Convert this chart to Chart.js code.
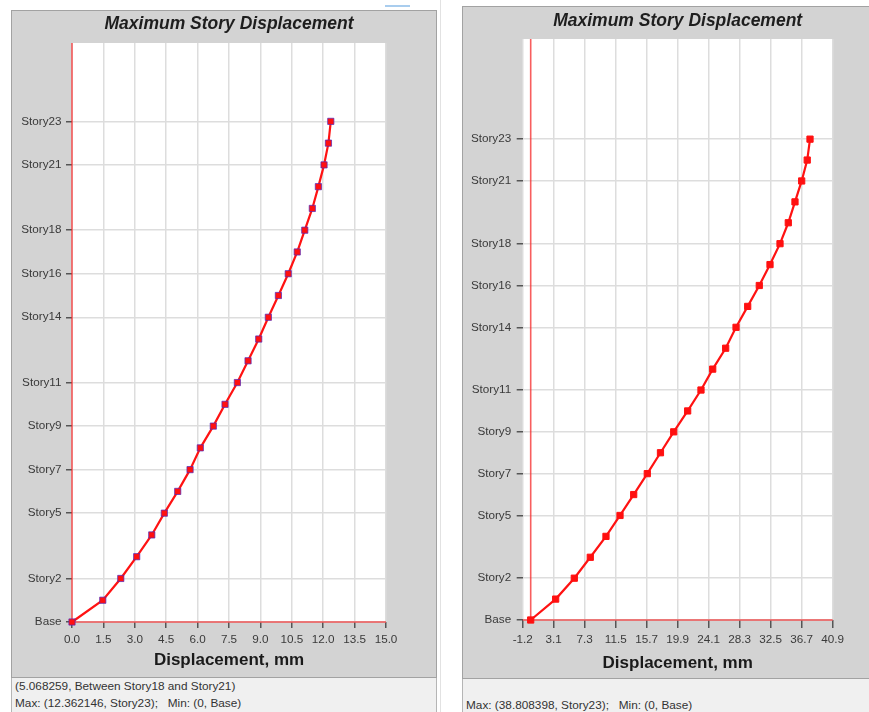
<!DOCTYPE html>
<html>
<head>
<meta charset="utf-8">
<script src="https://cdn.jsdelivr.net/npm/chart.js@4.4.1/dist/chart.umd.min.js"></script>
<style>
  html, body { margin: 0; padding: 0; background: #ffffff; width: 869px; height: 712px; overflow: hidden;
               font-family: "Liberation Sans", Arial, sans-serif; }
  .frame { position: absolute; background: #ffffff; }
  .panel { position: absolute; background: #d3d3d3; border: 1px solid #a2a2a2; box-sizing: border-box; }
  .panel canvas { position: absolute; left: 0; top: 0; }
  .footer { position: absolute; background: #f0f0f0; border-left: 1px solid #b5b5b5; border-right: 1px solid #b5b5b5; box-sizing: border-box; }
  .status { position: absolute; font-size: 11.8px; color: #333333; white-space: nowrap; line-height: 14px; }
  #p1 { left: 11px; top: 10px; width: 426px; height: 668px; }
  #f1 { left: 11px; top: 678px; width: 426px; height: 34px; }
  #p2 { left: 462px; top: 6px; width: 420px; height: 673px; }
  #f2 { left: 462px; top: 679px; width: 420px; height: 33px; }
  #sep { left: 440px; top: 0; width: 1px; height: 712px; background: #e2e2e2; }
  #tab { left: 385px; top: 5px; width: 25px; height: 2px; background: #a9cdee; }
</style>
</head>
<body>
<div class="frame" id="sep"></div>
<div class="frame" id="tab"></div>

<div class="panel" id="p1"><canvas id="c1" width="424" height="666"></canvas></div>
<div class="footer" id="f1">
  <div class="status" style="left:3px; top:1px;">(5.068259, Between Story18 and Story21)</div>
  <div class="status" style="left:3px; top:18px;">Max: (12.362146, Story23);&nbsp;&nbsp; Min: (0, Base)</div>
</div>

<div class="panel" id="p2"><canvas id="c2" width="406" height="671"></canvas></div>
<div class="footer" id="f2">
  <div class="status" style="left:3px; top:19px;">Max: (38.808398, Story23);&nbsp;&nbsp; Min: (0, Base)</div>
</div>

<script>
// Story levels, bottom to top
const storyNames = ['Base', 'Story1', 'Story2', 'Story3', 'Story4', 'Story5', 'Story6', 'Story7',
  'Story8', 'Story9', 'Story10', 'Story11', 'Story12', 'Story13', 'Story14', 'Story15', 'Story16',
  'Story17', 'Story18', 'Story19', 'Story20', 'Story21', 'Story22', 'Story23'];
// Levels that carry a label and a grid line
const storyTicks = [0, 2, 5, 7, 9, 11, 14, 16, 18, 21, 23];

// Maximum displacement per level (mm)
const dispLeft = [0, 1.47, 2.33, 3.09, 3.81, 4.41, 5.05, 5.64, 6.13, 6.75, 7.31, 7.90, 8.41,
  8.92, 9.38, 9.86, 10.33, 10.76, 11.12, 11.48, 11.77, 12.04, 12.25, 12.362146];
const dispRight = [0, 3.47, 6.06, 8.28, 10.46, 12.41, 14.31, 16.20, 18.03, 19.87, 21.81, 23.66,
  25.29, 27.09, 28.53, 30.15, 31.76, 33.25, 34.64, 35.79, 36.72, 37.65, 38.42, 38.808398];

// Displacement axis labels
const xLabelsLeft = ['0.0', '1.5', '3.0', '4.5', '6.0', '7.5', '9.0', '10.5', '12.0', '13.5', '15.0'];
const xLabelsRight = ['-1.2', '3.1', '7.3', '11.5', '15.7', '19.9', '24.1', '28.3', '32.5', '36.7', '40.9'];

const titleText = 'Maximum Story Displacement';
const xTitleText = 'Displacement, mm';

Chart.defaults.font.family = '"Liberation Sans", Arial, sans-serif';

// White plotting field on the grey panel
const plotBg = {
  id: 'plotBg',
  beforeDraw(chart) {
    const { ctx, chartArea: a } = chart;
    ctx.save();
    ctx.fillStyle = '#ffffff';
    ctx.fillRect(a.left, a.top, a.right - a.left, a.bottom - a.top);
    ctx.restore();
  }
};

// Red reference lines at zero displacement and at the base level
const zeroLines = {
  id: 'zeroLines',
  beforeDatasetsDraw(chart) {
    const { ctx, chartArea: a, scales: { x, y } } = chart;
    const px = x.getPixelForValue(0);
    const py = y.getPixelForValue(0);
    ctx.save();
    ctx.strokeStyle = 'rgba(245, 40, 40, 0.75)';
    ctx.lineWidth = 1.6;
    ctx.beginPath();
    ctx.moveTo(px, a.top);
    ctx.lineTo(px, a.bottom);
    ctx.moveTo(a.left, py);
    ctx.lineTo(a.right, py);
    ctx.stroke();
    ctx.restore();
  }
};

function makeChart(id, values, o) {
  return new Chart(document.getElementById(id), {
    type: 'scatter',
    data: {
      datasets: [{
        data: values.map((d, i) => ({ x: d, y: i })),
        showLine: true,
        borderColor: '#ff1212',
        borderWidth: 2.2,
        pointStyle: 'rect',
        pointRadius: 4.4,
        pointBackgroundColor: '#ff1010',
        pointBorderColor: o.pointEdge,
        pointBorderWidth: 1,
        clip: false
      }]
    },
    options: {
      responsive: false,
      animation: false,
      events: [],
      layout: { padding: { left: 0, right: o.right, top: 0, bottom: 0 } },
      plugins: {
        legend: { display: false },
        tooltip: { enabled: false },
        title: {
          display: true,
          fullSize: false,
          text: titleText,
          color: '#1e1e1e',
          font: { size: 17.5, weight: 'bold', style: 'italic', lineHeight: 1.2 },
          padding: { top: o.titleTop, bottom: 32 - 21 - o.titleTop }
        }
      },
      scales: {
        x: {
          type: 'linear',
          min: o.xMin,
          max: o.xMax,
          afterBuildTicks: s => { s.ticks = o.xValues.map(v => ({ value: v })); },
          afterFit: s => { s.height = o.xHeight; s.paddingLeft = 0; s.paddingRight = 0; },
          ticks: {
            autoSkip: false, maxRotation: 0, color: '#3a3a3a',
            font: { size: 11.7 }, padding: o.xPad,
            callback: (v, i) => o.xLabels[i]
          },
          grid: { color: '#dddddd', lineWidth: 1.5, tickColor: '#555555', tickWidth: 1.5, tickLength: o.xTl },
          border: { display: false },
          title: {
            display: true, text: xTitleText, color: '#1a1a1a',
            font: { size: 17, weight: 'bold', lineHeight: 1.2 },
            padding: { top: 0, bottom: o.xTitleBottom }
          }
        },
        y: {
          type: 'linear',
          min: 0,
          max: o.yMax,
          afterBuildTicks: s => { s.ticks = storyTicks.map(v => ({ value: v })); },
          afterFit: s => { s.width = o.yWidth; s.paddingTop = 0; s.paddingBottom = 0; },
          ticks: {
            color: '#3a3a3a', font: { size: 11.7 }, padding: o.yPad,
            callback: v => storyNames[v]
          },
          grid: { color: '#dddddd', lineWidth: 1.5, tickColor: '#555555', tickWidth: 1.5, tickLength: 6 },
          border: { display: false }
        }
      }
    },
    plugins: [plotBg, zeroLines]
  });
}

// Left panel: ticks sit on their stated values
makeChart('c1', dispLeft, {
  yWidth: 60, right: 50, titleTop: 3, xHeight: 55, xTitleBottom: 6,
  xMin: 0, xMax: 15, xValues: xLabelsLeft.map(Number), xLabels: xLabelsLeft,
  xTl: 6, xPad: 5, yMax: 26.6, yPad: 4.5,
  pointEdge: 'rgba(80, 40, 190, 0.7)'
});

// Right panel: eleven evenly spaced ticks across the axis range
const rightMin = -1.11, rightMax = 41.96;
const rightTickValues = xLabelsRight.map((_, k) => rightMin + k * (rightMax - rightMin) / (xLabelsRight.length - 1));
makeChart('c2', dispRight, {
  yWidth: 59.7, right: 36.3, titleTop: 4, xHeight: 58, xTitleBottom: 4.5,
  xMin: rightMin, xMax: rightMax, xValues: rightTickValues, xLabels: xLabelsRight,
  xTl: 8, xPad: 5, yMax: 27.79, yPad: 5.5,
  pointEdge: '#ff1010'
});
</script>
</body>
</html>
